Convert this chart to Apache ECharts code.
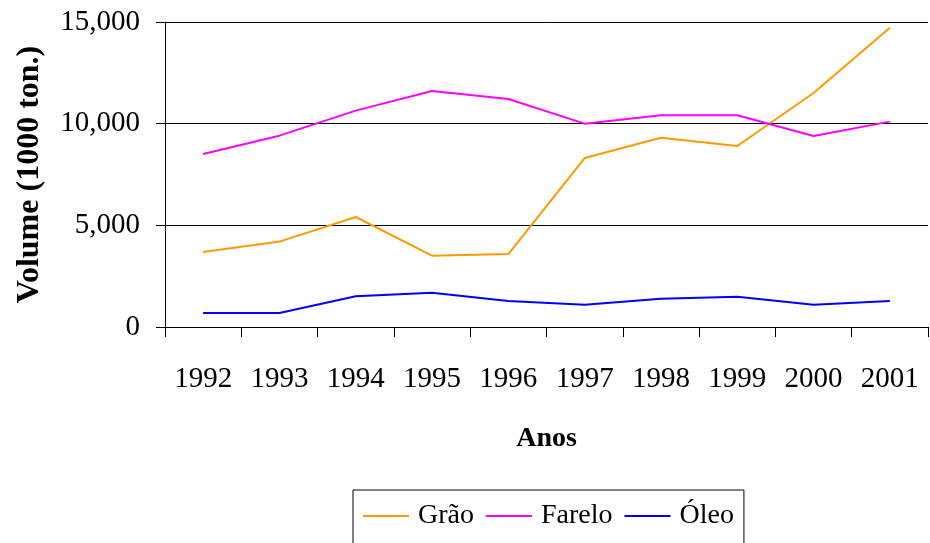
<!DOCTYPE html>
<html>
<head>
<meta charset="utf-8">
<script src="https://cdn.jsdelivr.net/npm/echarts@6/dist/echarts.min.js"></script>
<style>
  html, body { margin: 0; padding: 0; background: #fff; }
  #chart { width: 930px; height: 543px; }
</style>
</head>
<body>
<div id="chart"></div>
<script>
// dados
var anos = ['1992', '1993', '1994', '1995', '1996', '1997', '1998', '1999', '2000', '2001'];
var grao = [3690, 4200, 5410, 3510, 3590, 8310, 9310, 8900, 11510, 14720];
var farelo = [8510, 9410, 10640, 11610, 11210, 10000, 10410, 10410, 9390, 10100];
var oleo = [690, 690, 1510, 1690, 1280, 1100, 1390, 1490, 1100, 1280];
var yTicks = [0, 5000, 10000, 15000];

var myChart = echarts.init(document.getElementById('chart'));

var fonte = '"Liberation Serif", "Times New Roman", serif';

var option = {
    animation: false,
    color: ['#FF9900', '#FF00FF', '#0000FF'],
    textStyle: { fontFamily: fonte, color: '#000' },
    grid: {
        left: 165,
        right: 2,
        top: 22,
        bottom: 216,
        containLabel: false
    },
    legend: {
        data: ['Grão', 'Farelo', 'Óleo'],
        left: 353,
        top: 490,
        padding: [12, 10, 40, 10],
        borderColor: '#000',
        borderWidth: 1,
        itemGap: 12,
        itemWidth: 46,
        itemHeight: 2,
        icon: 'rect',
        textStyle: {
            fontFamily: fonte,
            fontSize: 28,
            color: '#000',
            padding: [0, 0, 0, 4]
        }
    },
    xAxis: {
        type: 'category',
        data: anos,
        boundaryGap: true,
        name: 'Anos',
        nameLocation: 'middle',
        nameGap: 98,
        nameTextStyle: { fontFamily: fonte, fontSize: 28, fontWeight: 'bold', color: '#000' },
        axisLine: { lineStyle: { color: '#000', width: 1 } },
        axisTick: { show: true, length: 10, lineStyle: { color: '#000' } },
        axisLabel: { margin: 38, fontFamily: fonte, fontSize: 29, color: '#000', interval: 0 },
        splitLine: { show: false }
    },
    yAxis: {
        type: 'value',
        min: yTicks[0],
        max: yTicks[yTicks.length - 1],
        interval: yTicks[1] - yTicks[0],
        name: 'Volume (1000 ton.)',
        nameLocation: 'middle',
        nameGap: 119,
        nameTextStyle: { fontFamily: fonte, fontSize: 32, fontWeight: 'bold', color: '#000' },
        axisLine: { show: true, lineStyle: { color: '#000', width: 1 } },
        axisTick: { show: true, length: 9, lineStyle: { color: '#000' } },
        axisLabel: {
            margin: 25,
            fontFamily: fonte,
            fontSize: 29,
            color: '#000',
            formatter: function (v) { return echarts.format.addCommas(v); }
        },
        splitLine: { show: true, lineStyle: { color: '#000', width: 1 } }
    },
    series: [
        { name: 'Grão', type: 'line', data: grao, symbol: 'none', lineStyle: { width: 2 } },
        { name: 'Farelo', type: 'line', data: farelo, symbol: 'none', lineStyle: { width: 2 } },
        { name: 'Óleo', type: 'line', data: oleo, symbol: 'none', lineStyle: { width: 2 } }
    ]
};

myChart.setOption(option, true);
</script>
</body>
</html>
